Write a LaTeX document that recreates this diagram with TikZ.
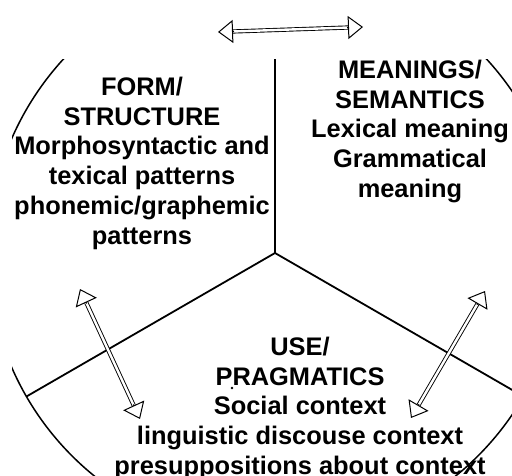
\documentclass[tikz,border=0pt]{standalone}
\usepackage{fontspec}
\setmainfont{Liberation Sans}
\usetikzlibrary{arrows.meta,calc}

\tikzset{
  pieline/.style={line width=1.8bp},
  rimline/.style={line width=1.5bp},
  shaft/.style={double,double distance=2.4bp,line width=0.9bp,shorten <=15bp,shorten >=15bp},
  tiphead/.style={line width=1bp,-{Triangle[open,length=15bp,width=23bp]}},
  blocktext/.style={anchor=north,inner sep=0pt,align=center,
    font={\fontsize{25.5}{29.8}\selectfont\bfseries}}
}

\begin{document}
\begin{tikzpicture}[x=1bp,y=-1bp]
\useasboundingbox (0,0) rectangle (512,476);
\coordinate (ctr) at (275,253);
\begin{scope}
\clip (12,60) rectangle (520,480);
\draw[rimline] (ctr) circle[radius=287];
\draw[pieline] (ctr) -- ++(-90:300);
\draw[pieline] (ctr) -- ++(150:287);
\draw[pieline] (ctr) -- ++(30:300);
\end{scope}
\node[blocktext] (form) at (142,77) {FORM/\\STRUCTURE\\Morphosyntactic and\\texical patterns\\phonemic/graphemic\\patterns};
\node[blocktext] (meaning) at (410,60) {MEANINGS/\\SEMANTICS\\Lexical meaning\\Grammatical\\meaning};
\node[blocktext] (use) at (300,337) {USE/\\PRAGMATICS\\Social context\\linguistic discouse context\\presuppositions about context};
\fill (232,388) circle[radius=1.3];
% double arrows between the three parts
\coordinate (t1) at (218,32);
\coordinate (t2) at (363,27);
\coordinate (l1) at (80,289);
\coordinate (l2) at (140,419);
\coordinate (r1) at (485,291);
\coordinate (r2) at (411,418);
\foreach \a/\b in {t1/t2,l1/l2,r1/r2}{
  \draw[shaft] (\a) -- (\b);
  \draw[tiphead] ($(\a)!16bp!(\b)$) -- (\a);
  \draw[tiphead] ($(\b)!16bp!(\a)$) -- (\b);
}
\end{tikzpicture}
\end{document}
